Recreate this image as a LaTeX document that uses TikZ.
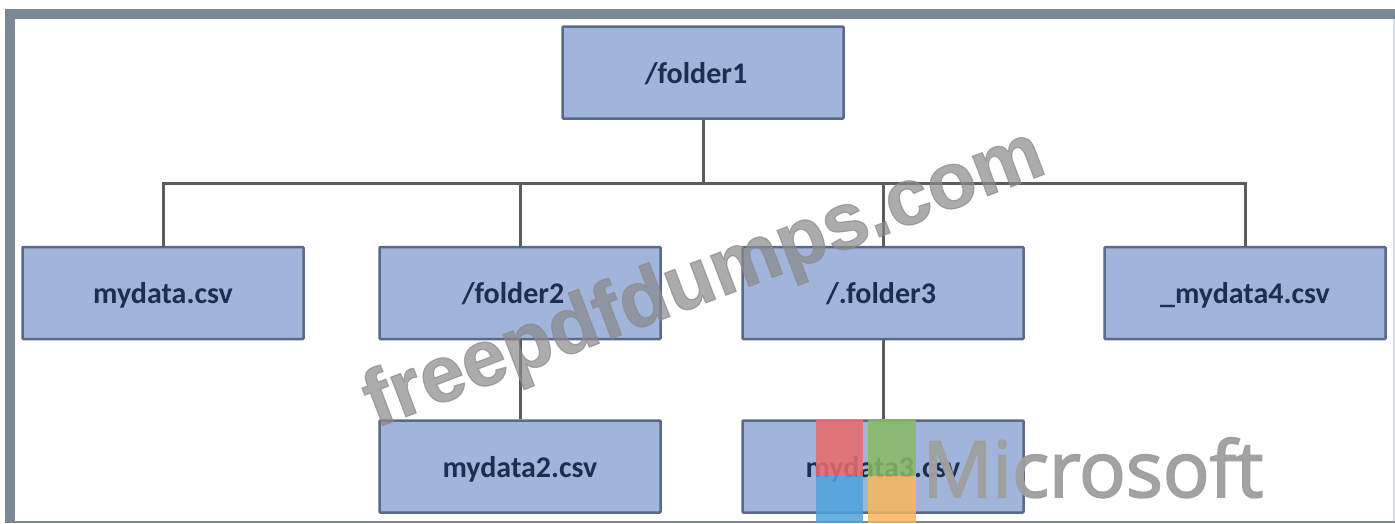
\documentclass[tikz,border=0pt]{standalone}
\usepackage{fontspec}
\setmainfont{Carlito}
\newfontfamily\markfont[BoldFeatures={FakeBold=1.5}]{Liberation Sans}
\newfontfamily\logofont[FakeBold=2.5]{Open Sans}
\definecolor{framegray}{HTML}{7A8896}
\definecolor{boxblue}{HTML}{A1B5DA}
\definecolor{boxedge}{HTML}{59698A}
\definecolor{linkgray}{HTML}{5C5C5C}
\definecolor{labelnavy}{HTML}{1E2E52}
\definecolor{markgray}{HTML}{8A8A8A}
\definecolor{logored}{HTML}{EB6A6B}
\definecolor{logogreen}{HTML}{88BC63}
\definecolor{logoblue}{HTML}{4EA4DD}
\definecolor{logoorange}{HTML}{F8B55C}
\tikzset{
    filebox/.style = {draw = boxedge, fill = boxblue, line width = 2.5pt, rounded corners = 1pt,
        minimum width = 281pt, minimum height = 92pt, inner sep = 0pt,
        text height = 28pt, text depth = 7pt,
        text = labelnavy, font = \fontsize{30}{36}\selectfont\bfseries},
    link/.style = {draw = linkgray, line width = 3pt},
    logotile/.style = {opacity = 0.85}
}
\begin{document}
\begin{tikzpicture}[x = 1pt, y = -1pt]
        \useasboundingbox (0,0) rectangle (1395,523);
        \fill[framegray] (5,9) rectangle (1395,523);
        \fill[white] (15,19) rectangle (1393,520.5);
        \fill[framegray!30] (1393,19) rectangle (1395,520.5);

        \coordinate (bus) at (703,183);

        \node[filebox] (folder1) at (703,72.5) {/folder1\kern14pt};
        \node[filebox] (mydata) at (163,293) {mydata.csv};
        \node[filebox] (folder2) at (520,293) {/folder2\kern14pt};
        \node[filebox] (folder3) at (883,293) {/.folder3\kern4pt};
        \node[filebox] (mydata4) at (1245,293) {\_mydata4.csv};
        \node[filebox] (mydata2) at (520,466.5) {mydata2.csv};
        \node[filebox] (mydata3) at (883,466.5) {mydata3.csv};

        \draw[link] (folder1) -- (bus);
        \foreach \child in {mydata, folder2, folder3, mydata4} {
            \draw[link] (bus) -| (\child);
        }
        \draw[link] (folder2) -- (mydata2);
        \draw[link] (folder3) -- (mydata3);

        \node[rotate = 20.8, opacity = 0.7, text = markgray, font = \fontsize{80}{96}\selectfont\markfont\bfseries]
            (watermark) at (705,281) {freepdfdumps.com};

        \fill[logotile, fill = logored] (816,420) rectangle (863,476);
        \fill[logotile, fill = logogreen] (868,420) rectangle (916,476);
        \fill[logotile, fill = logoblue] (816,476) rectangle (863,523);
        \fill[logotile, fill = logoorange] (868,476) rectangle (916,523);

        \node[text = gray!75, opacity = 0.95, font = \fontsize{77.5}{94}\selectfont\logofont, anchor = base west]
            (logoword) at (919,497) {Microsoft};
    \end{tikzpicture}
\end{document}
